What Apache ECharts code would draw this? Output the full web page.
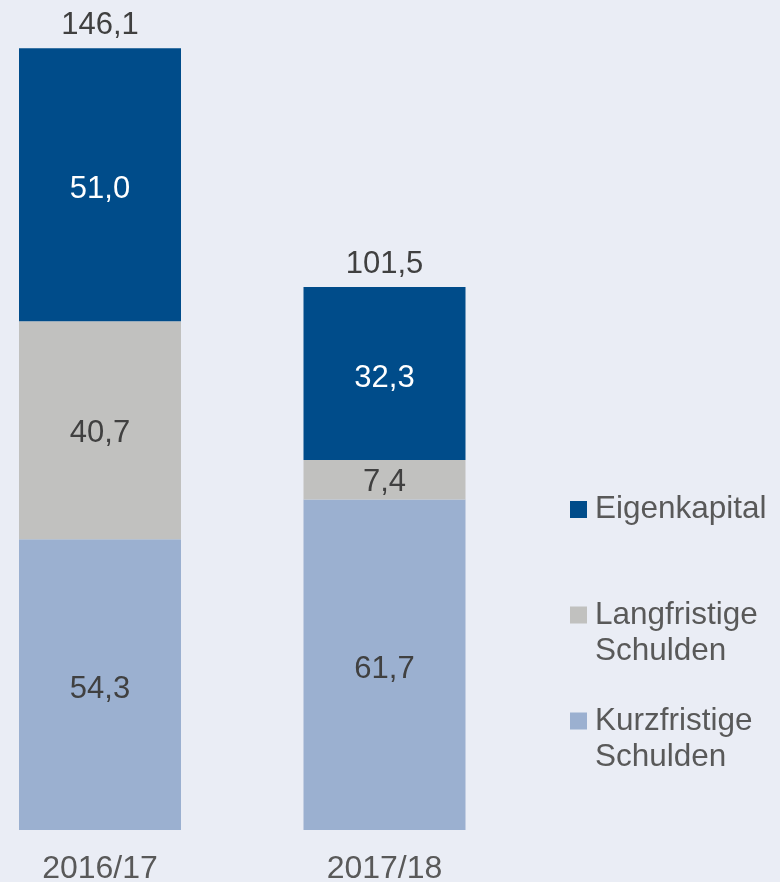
<!DOCTYPE html>
<html>
<head>
    <meta charset="utf-8">
    <title>Bilanzstruktur</title>
    <script src="https://cdn.jsdelivr.net/npm/echarts@6/dist/echarts.min.js"></script>
</head>
<body style="margin:0;background-color:#EAEDF5">
<div id="main" style="width:780px;height:882px;"></div>
<script type="text/javascript">
    // Daten
    var years = ['2016/17', '2017/18'];
    var kurzfristig = [54.3, 61.7];
    var langfristig = [40.7, 7.4];
    var eigenkapital = [51.0, 32.3];
    var summen = [146.1, 101.5];

    var fmt = function (v) {
        return v.toFixed(1).replace('.', ',');
    };

    var schrift = 'Liberation Sans, Arial, sans-serif';

    // je Legendeneintrag eine eigene Legende, damit das Kästchen an der ersten Zeile steht
    function legende(name, top, zweizeilig) {
        return {
            data: [name],
            orient: 'vertical',
            left: 570,
            top: top,
            padding: 0,
            itemWidth: 17,
            itemHeight: 17,
            itemGap: 0,
            selectedMode: false,
            icon: 'rect',
            formatter: function (n) {
                // leere erste Zeile, damit die erste Textzeile neben dem Kästchen steht
                return zweizeilig ? '\n' + n.replace(' ', '\n') : n;
            },
            textStyle: {
                fontFamily: schrift,
                fontSize: 31.5,
                lineHeight: 36,
                color: '#595959',
                padding: [0, 0, 0, 3]
            }
        };
    }

    var myChart = echarts.init(document.getElementById('main'));

    myChart.setOption({
        backgroundColor: '#EAEDF5',
        animation: false,
        grid: {left: 100, width: 284.5, top: 0, bottom: 52, outerBoundsMode: 'none'},
        legend: [
            legende('Eigenkapital', 491.5, false),
            legende('Langfristige Schulden', 561, true),
            legende('Kurzfristige Schulden', 667, true)
        ],
        xAxis: {
            type: 'category',
            boundaryGap: false,
            data: years,
            axisLine: {show: false},
            axisTick: {show: false},
            splitLine: {show: false},
            axisLabel: {
                margin: 23,
                fontFamily: schrift,
                fontSize: 32,
                color: '#595959'
            }
        },
        yAxis: {
            type: 'value',
            min: 0,
            max: 155,
            show: false,
            splitLine: {show: false}
        },
        series: [
            {
                name: 'Kurzfristige Schulden',
                type: 'bar',
                stack: 'a',
                barWidth: 162,
                data: kurzfristig,
                itemStyle: {color: '#9BB0D0'},
                label: {
                    show: true, position: 'inside', offset: [0, 5],
                    formatter: function (p) { return fmt(p.value); },
                    fontFamily: schrift, fontSize: 31, color: '#404040'
                }
            },
            {
                name: 'Langfristige Schulden',
                type: 'bar',
                stack: 'a',
                data: langfristig,
                itemStyle: {color: '#C1C1BF'},
                label: {
                    show: true, position: 'inside', offset: [0, 3],
                    formatter: function (p) { return fmt(p.value); },
                    fontFamily: schrift, fontSize: 31, color: '#404040'
                }
            },
            {
                name: 'Eigenkapital',
                type: 'bar',
                stack: 'a',
                data: eigenkapital,
                itemStyle: {color: '#004C8A'},
                label: {
                    show: true, position: 'inside', offset: [0, 5],
                    formatter: function (p) { return fmt(p.value); },
                    fontFamily: schrift, fontSize: 31, color: '#FFFFFF'
                }
            },
            {
                // Summenbeschriftung über dem Balken
                name: 'Summe',
                type: 'bar',
                stack: 'a',
                data: [0, 0],
                itemStyle: {color: 'transparent'},
                label: {
                    show: true, position: 'top', distance: 7,
                    formatter: function (p) { return fmt(summen[p.dataIndex]); },
                    fontFamily: schrift, fontSize: 31, color: '#404040'
                }
            }
        ]
    });
</script>
</body>
</html>
